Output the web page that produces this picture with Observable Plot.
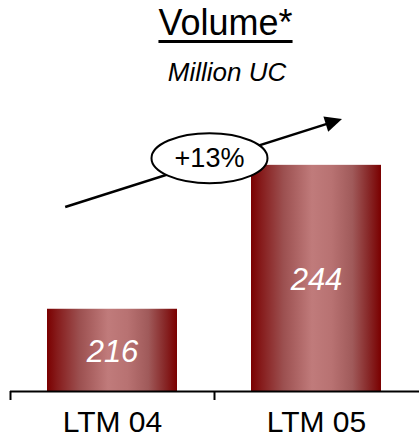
<!DOCTYPE html>
<html>
<head>
<meta charset="utf-8">
<script src="https://cdn.jsdelivr.net/npm/d3@7"></script>
<script src="https://cdn.jsdelivr.net/npm/@observablehq/plot@0.6"></script>
<style>
  body { margin: 0; background: #fff; font-family: "Liberation Sans", Arial, sans-serif; }
  #wrap { width: 419px; }
  #head { position: relative; height: 100px; }
  #title { position: absolute; left: 0; right: 0; top: 5px; padding-left: 32px; text-align: center;
           font-size: 36px; line-height: 36px; color: #000;
           text-decoration: underline; text-decoration-thickness: 3px; text-underline-offset: 5px; }
  #sub { position: absolute; left: 0; right: 0; top: 59px; padding-left: 35px; text-align: center;
         font-size: 26px; line-height: 26px; font-style: italic; color: #000; }
  #chart svg { display: block; }
</style>
</head>
<body>
<div id="wrap">
  <div id="head">
    <div id="title">Volume*</div>
    <div id="sub">Million UC</div>
  </div>
  <div id="chart"></div>
</div>
<script>
// ---- data ----
const categories = ["LTM 04", "LTM 05"];
const volumes = [216, 244];
const yBase = 200;
const yTop = 250;

const data = categories.map((c, i) => ({cat: c, value: volumes[i]}));
const growth = Math.round((volumes[1] / volumes[0] - 1) * 100);
const growthLabel = "+" + growth + "%";

const font = '"Liberation Sans", Arial, sans-serif';

const plot = Plot.plot({
  width: 419,
  height: 338,
  marginTop: 34,
  marginBottom: 47,
  marginLeft: 10,
  marginRight: 0,
  style: {fontFamily: font, background: "#fff", overflow: "visible"},
  x: {domain: categories, range: [10, 418], paddingInner: 0.363, paddingOuter: 0.18, align: 0.5, axis: null},
  y: {domain: [yBase, yTop], axis: null},
  marks: [
    Plot.barY(data, {x: "cat", y1: yBase, y2: "value", fill: "url(#barGrad)"}),
    Plot.ruleY([yBase], {stroke: "#000", strokeWidth: 2}),
    Plot.ruleX(categories, {x: d => d, y1: yBase, y2: yBase - 1.75, dx: -102, stroke: "#000", strokeWidth: 2}),
    Plot.text(data, {x: "cat", y: d => (d.value + yBase) / 2, dy: 2, text: d => String(d.value),
      fill: "#fff", fontSize: 31, fontStyle: "italic"}),
    Plot.text(data, {x: "cat", y: yBase, text: "cat", lineAnchor: "bottom", dy: 40,
      fill: "#000", fontSize: 30})
  ]
});

document.getElementById("chart").appendChild(plot);

// ---- gradient + growth annotation ----
const svg = d3.select(plot);
const defs = svg.insert("defs", ":first-child");
const grad = defs.append("linearGradient").attr("id", "barGrad")
  .attr("x1", 0).attr("x2", 1).attr("y1", 0).attr("y2", 0);
[[0, "#7a0000"], [0.08, "#861c1c"], [0.25, "#9c5050"], [0.47, "#c07b7b"], [0.62, "#b87272"],
 [0.78, "#a05a5a"], [0.9, "#882a2a"], [1, "#7a0000"]]
  .forEach(([o, c]) => grad.append("stop").attr("offset", o).attr("stop-color", c));

const sx = plot.scale("x"), sy = plot.scale("y");
const bw = sx.bandwidth;
const X = (cat, f) => sx.apply(cat) + f * bw;

const x1 = X(categories[0], 0.14), y1 = sy.apply(235.8);
const x2 = X(categories[1], 0.70), y2 = sy.apply(252.9);
const len = Math.hypot(x2 - x1, y2 - y1);
const ux = (x2 - x1) / len, uy = (y2 - y1) / len;
const headL = 17, headW = 8;
const ann = svg.append("g");
ann.append("line")
  .attr("x1", x1).attr("y1", y1)
  .attr("x2", x2 - ux * (headL - 2)).attr("y2", y2 - uy * (headL - 2))
  .attr("stroke", "#000").attr("stroke-width", 2.5);
const bx = x2 - ux * headL, by = y2 - uy * headL;
ann.append("path")
  .attr("d", `M${x2},${y2}L${bx - uy * headW},${by + ux * headW}L${bx + uy * headW},${by - ux * headW}Z`)
  .attr("fill", "#000");

const ex = X(categories[0], 1.25), ey = sy.apply(245.3);
ann.append("ellipse").attr("cx", ex).attr("cy", ey).attr("rx", 58).attr("ry", 25)
  .attr("fill", "#fff").attr("stroke", "#000").attr("stroke-width", 2);
ann.append("text").attr("x", ex).attr("y", ey).attr("dy", "0.32em")
  .attr("text-anchor", "middle").attr("font-size", 27).attr("font-family", font)
  .attr("fill", "#000").text(growthLabel);
</script>
</body>
</html>
